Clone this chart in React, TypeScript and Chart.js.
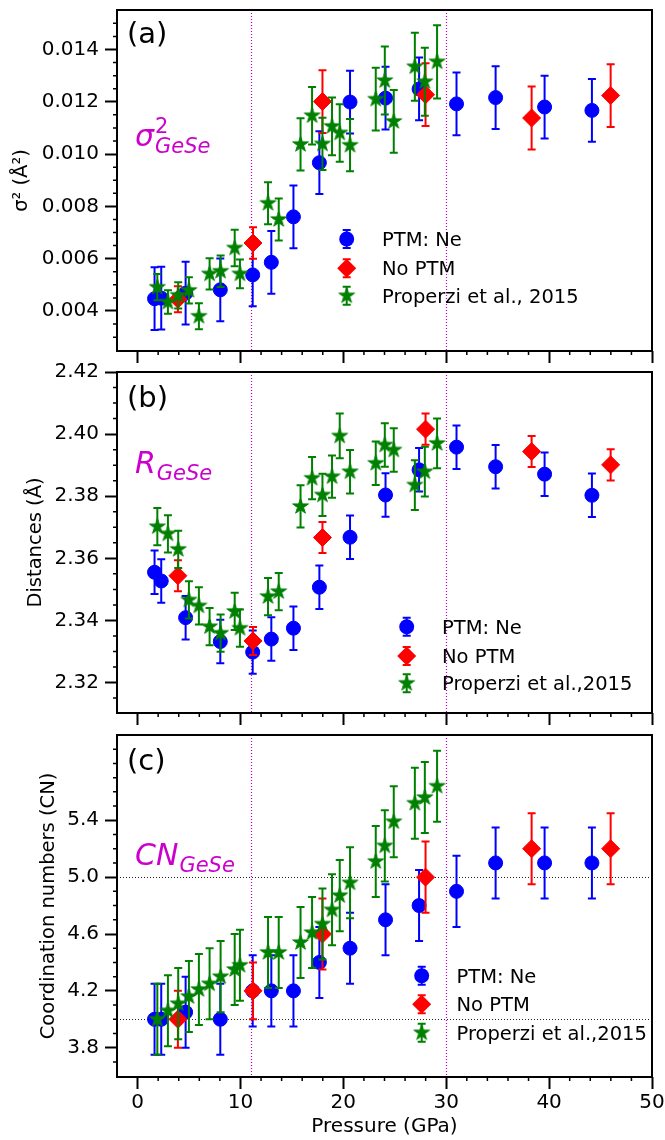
import React, { useEffect, useRef } from 'react';
import { Chart, registerables } from 'chart.js';

Chart.register(...registerables);

// ---------------- data ----------------
const PTM_X = [1.65, 2.3, 4.67, 8.04, 11.19, 13.0, 15.15, 17.67, 20.65, 24.1, 27.36, 31.0, 34.8, 39.56, 44.16];
const NOPTM_X = [3.92, 11.22, 17.97, 27.99, 38.3, 45.98];
const PROP_X = [1.92, 2.95, 3.95, 4.99, 5.96, 7.0, 8.07, 9.44, 9.95, 12.68, 13.72, 15.84, 16.96, 17.97, 18.9, 19.65, 20.65, 23.15, 24.03, 24.9, 26.95, 27.92, 29.11];

// (a) sigma^2
const PTM_SIGMA = [0.00447, 0.00449, 0.00468, 0.00481, 0.00538, 0.00586, 0.0076, 0.00967, 0.01199, 0.01214, 0.01249, 0.01192, 0.01216, 0.0118, 0.01167];
const PTM_SIGMA_ERR = [0.0012, 0.0012, 0.0012, 0.0012, 0.0012, 0.0012, 0.0012, 0.0012, 0.0012, 0.0012, 0.0012, 0.0012, 0.0012, 0.0012, 0.0012];
const NOPTM_SIGMA = [0.00445, 0.0066, 0.01201, 0.01227, 0.01138, 0.01224];
const NOPTM_SIGMA_ERR = [0.0005, 0.0006, 0.0012, 0.0012, 0.0012, 0.0012];
const PROP_SIGMA = [0.00491, 0.00434, 0.0046, 0.00479, 0.0038, 0.00542, 0.00552, 0.00641, 0.00542, 0.00812, 0.0075, 0.01037, 0.01147, 0.01039, 0.01106, 0.01081, 0.01034, 0.0121, 0.01281, 0.01125, 0.01334, 0.01277, 0.01353];
const PROP_SIGMA_ERR = [0.0005, 0.00045, 0.0005, 0.0005, 0.0005, 0.0006, 0.0006, 0.0007, 0.00055, 0.0008, 0.0008, 0.001, 0.0011, 0.001, 0.0011, 0.0011, 0.001, 0.0012, 0.0013, 0.0012, 0.0013, 0.0013, 0.0014];

// (b) distances
const PTM_R = [2.3555, 2.3527, 2.3409, 2.3332, 2.3298, 2.334, 2.3375, 2.3507, 2.3668, 2.3804, 2.3885, 2.3958, 2.3895, 2.3871, 2.3803];
const PTM_R_ERR = [0.007, 0.007, 0.007, 0.007, 0.007, 0.007, 0.007, 0.007, 0.007, 0.007, 0.007, 0.007, 0.007, 0.007, 0.007];
const NOPTM_R = [2.3544, 2.3334, 2.3667, 2.4016, 2.3944, 2.3901];
const NOPTM_R_ERR = [0.005, 0.0045, 0.005, 0.005, 0.005, 0.005];
const PROP_R = [2.3702, 2.3679, 2.3629, 2.3466, 2.3447, 2.338, 2.3359, 2.3429, 2.3375, 2.3477, 2.3493, 2.3767, 2.3858, 2.3804, 2.3863, 2.3994, 2.3879, 2.3906, 2.3965, 2.3949, 2.3836, 2.3879, 2.397];
const PROP_R_ERR = [0.006, 0.006, 0.006, 0.006, 0.006, 0.006, 0.006, 0.006, 0.006, 0.006, 0.006, 0.0068, 0.0068, 0.0068, 0.0068, 0.0072, 0.007, 0.007, 0.007, 0.007, 0.008, 0.008, 0.008];

// (c) coordination numbers
const PTM_CN = [4.0, 4.0, 4.05, 4.0, 4.2, 4.2, 4.2, 4.4, 4.5, 4.7, 4.8, 4.9, 5.1, 5.1, 5.1];
const PTM_CN_ERR = [0.25, 0.25, 0.25, 0.25, 0.25, 0.25, 0.25, 0.25, 0.25, 0.25, 0.25, 0.25, 0.25, 0.25, 0.25];
const NOPTM_CN = [4.0, 4.2, 4.6, 5.0, 5.2, 5.2];
const NOPTM_CN_ERR = [0.2, 0.2, 0.25, 0.25, 0.25, 0.25];
const PROP_CN = [4.0, 4.06, 4.11, 4.16, 4.21, 4.25, 4.3, 4.35, 4.38, 4.47, 4.47, 4.54, 4.61, 4.67, 4.77, 4.87, 4.96, 5.11, 5.22, 5.39, 5.52, 5.56, 5.64];
const PROP_CN_ERR = [0.25, 0.25, 0.25, 0.25, 0.25, 0.25, 0.25, 0.25, 0.25, 0.25, 0.25, 0.25, 0.25, 0.25, 0.25, 0.25, 0.25, 0.25, 0.25, 0.25, 0.25, 0.25, 0.25];

// ticks / reference lines
const X_MAJOR = [0, 10, 20, 30, 40, 50];
const X_MINOR = [2, 4, 6, 8, 12, 14, 16, 18, 22, 24, 26, 28, 32, 34, 36, 38, 42, 44, 46, 48];
const SIGMA_MAJOR = [0.004, 0.006, 0.008, 0.010, 0.012, 0.014];
const SIGMA_MINOR = [0.0025, 0.003, 0.0035, 0.0045, 0.005, 0.0055, 0.0065, 0.007, 0.0075, 0.0085, 0.009, 0.0095, 0.0105, 0.011, 0.0115, 0.0125, 0.013, 0.0135, 0.0145, 0.015];
const R_MAJOR = [2.32, 2.34, 2.36, 2.38, 2.40, 2.42];
const R_MINOR = [2.315, 2.325, 2.33, 2.335, 2.345, 2.35, 2.355, 2.365, 2.37, 2.375, 2.385, 2.39, 2.395, 2.405, 2.41, 2.415];
const CN_MAJOR = [3.8, 4.2, 4.6, 5.0, 5.4];
const CN_MINOR = [3.7, 3.9, 4.0, 4.1, 4.3, 4.4, 4.5, 4.7, 4.8, 4.9, 5.1, 5.2, 5.3, 5.5, 5.6, 5.7, 5.8, 5.9];
const PHASE_LINES = [11, 30];
const CN_REF_LINES = [4.0, 5.0];
const SERIES_LABELS = ['PTM: Ne', 'No PTM', 'Properzi et al., 2015'];
const SERIES_LABELS_BC = ['PTM: Ne', 'No PTM', 'Properzi et al.,2015'];

// ---------------- styles ----------------
const FONT = "'DejaVu Sans', sans-serif";
const BLUE = '#0000ff';
const RED = '#ff0000';
const GREEN = '#008000';
const MAG = '#cc00cc';
const COLORS = [BLUE, RED, GREEN];
const ORDERS = [2, 1, 0];

type Series = { x: number[]; y: number[]; err: number[] };
type PanelSpec = {
  key: string;
  top: number;
  height: number;
  padTop: number;
  xAxisH: number;
  yMin: number;
  yMax: number;
  yMajor: number[];
  yMinor: number[];
  yDigits: number;
  yTitle: string;
  yTitlePad: number;
  showX: boolean;
  series: Series[];
  hLines: number[];
  legendX: number;
  legendTextX: number;
  legendYs: number[];
  legendLabels: string[];
  tag: string;
  tagBaseline: number;
  mathMain: string;
  mathSup: string;
  mathBaseline: number;
};

const PANELS: PanelSpec[] = [
  {
    key: 'a', top: 0, height: 370, padTop: 8, xAxisH: 19,
    yMin: 0.00247, yMax: 0.01551, yMajor: SIGMA_MAJOR, yMinor: SIGMA_MINOR, yDigits: 3,
    yTitle: 'σ² (Å²)', yTitlePad: 10, showX: false,
    series: [
      { x: PTM_X, y: PTM_SIGMA, err: PTM_SIGMA_ERR },
      { x: NOPTM_X, y: NOPTM_SIGMA, err: NOPTM_SIGMA_ERR },
      { x: PROP_X, y: PROP_SIGMA, err: PROP_SIGMA_ERR },
    ],
    hLines: [],
    legendX: 346.7, legendTextX: 382, legendYs: [239, 268.3, 295.7], legendLabels: SERIES_LABELS,
    tag: '(a)', tagBaseline: 43, mathMain: 'σ', mathSup: '2', mathBaseline: 146,
  },
  {
    key: 'b', top: 355, height: 375, padTop: 17, xAxisH: 17,
    yMin: 2.3102, yMax: 2.42, yMajor: R_MAJOR, yMinor: R_MINOR, yDigits: 2,
    yTitle: 'Distances (Å)', yTitlePad: 24, showX: false,
    series: [
      { x: PTM_X, y: PTM_R, err: PTM_R_ERR },
      { x: NOPTM_X, y: NOPTM_R, err: NOPTM_R_ERR },
      { x: PROP_X, y: PROP_R, err: PROP_R_ERR },
    ],
    hLines: [],
    legendX: 406.7, legendTextX: 442, legendYs: [626.7, 656, 683.3], legendLabels: SERIES_LABELS_BC,
    tag: '(b)', tagBaseline: 407, mathMain: 'R', mathSup: '', mathBaseline: 473,
  },
  {
    key: 'c', top: 720, height: 420, padTop: 15, xAxisH: 63,
    yMin: 3.594, yMax: 6.0, yMajor: CN_MAJOR, yMinor: CN_MINOR, yDigits: 1,
    yTitle: 'Coordination numbers (CN)', yTitlePad: 37, showX: true,
    series: [
      { x: PTM_X, y: PTM_CN, err: PTM_CN_ERR },
      { x: NOPTM_X, y: NOPTM_CN, err: NOPTM_CN_ERR },
      { x: PROP_X, y: PROP_CN, err: PROP_CN_ERR },
    ],
    hLines: CN_REF_LINES,
    legendX: 421.7, legendTextX: 456.5, legendYs: [975.7, 1004.3, 1032.7], legendLabels: SERIES_LABELS_BC,
    tag: '(c)', tagBaseline: 770, mathMain: 'CN', mathSup: '', mathBaseline: 865,
  },
];

function makeStar(R: number, color: string): HTMLCanvasElement {
  const s = Math.ceil(R * 2 + 4);
  const c = document.createElement('canvas');
  c.width = s;
  c.height = s;
  const g = c.getContext('2d')!;
  g.fillStyle = color;
  g.strokeStyle = color;
  g.lineWidth = 1;
  g.beginPath();
  for (let i = 0; i < 10; i++) {
    const rr = i % 2 === 0 ? R : R * 0.381966;
    const ang = -Math.PI / 2 + (i * Math.PI) / 5;
    const px = s / 2 + rr * Math.cos(ang);
    const py = s / 2 + rr * Math.sin(ang);
    if (i === 0) g.moveTo(px, py);
    else g.lineTo(px, py);
  }
  g.closePath();
  g.fill();
  g.stroke();
  return c;
}

function drawMarker(ctx: CanvasRenderingContext2D, k: number, x: number, y: number, star: HTMLCanvasElement) {
  ctx.fillStyle = COLORS[k];
  if (k === 0) {
    ctx.beginPath();
    ctx.arc(x, y, 7.5, 0, Math.PI * 2);
    ctx.fill();
  } else if (k === 1) {
    const r = 9.5;
    ctx.beginPath();
    ctx.moveTo(x, y - r);
    ctx.lineTo(x + r, y);
    ctx.lineTo(x, y + r);
    ctx.lineTo(x - r, y);
    ctx.closePath();
    ctx.fill();
  } else {
    ctx.drawImage(star, x - star.width / 2, y - star.height / 2);
  }
}

function errBar(ctx: CanvasRenderingContext2D, x: number, y1: number, y2: number, color: string) {
  ctx.strokeStyle = color;
  ctx.lineWidth = 2;
  ctx.beginPath();
  ctx.moveTo(x, y1);
  ctx.lineTo(x, y2);
  ctx.moveTo(x - 4, y1);
  ctx.lineTo(x + 4, y1);
  ctx.moveTo(x - 4, y2);
  ctx.lineTo(x + 4, y2);
  ctx.stroke();
}

function buildConfig(spec: PanelSpec, star: HTMLCanvasElement): any {
  const datasets = spec.series.map((s, k) => ({
    label: SERIES_LABELS[k],
    data: s.x.map((xv, i) => ({ x: xv, y: s.y[i] })),
    yErr: s.err,
    pointStyle: k === 0 ? 'circle' : k === 1 ? 'rectRot' : star,
    pointRadius: k === 0 ? 7 : 9,
    pointBorderWidth: 1,
    pointBackgroundColor: COLORS[k],
    pointBorderColor: COLORS[k],
    borderColor: COLORS[k],
    backgroundColor: COLORS[k],
    showLine: false,
    order: ORDERS[k],
  }));

  const decor = {
    id: 'decor' + spec.key,
    beforeDatasetsDraw(chart: any) {
      const { ctx, chartArea: a, scales } = chart;
      const xs = scales.x;
      const ys = scales.y;
      ctx.save();
      ctx.lineWidth = 1.2;
      ctx.setLineDash([1, 2]);
      ctx.strokeStyle = MAG;
      PHASE_LINES.forEach((v) => {
        const px = Math.round(xs.getPixelForValue(v)) + 0.5;
        ctx.beginPath();
        ctx.moveTo(px, Math.round(a.top));
        ctx.lineTo(px, a.bottom);
        ctx.stroke();
      });
      ctx.lineWidth = 1;
      ctx.strokeStyle = '#222';
      spec.hLines.forEach((v) => {
        const py = Math.round(ys.getPixelForValue(v)) + 0.5;
        ctx.beginPath();
        ctx.moveTo(Math.round(a.left), py);
        ctx.lineTo(a.right, py);
        ctx.stroke();
      });
      ctx.restore();
    },
    beforeDatasetDraw(chart: any, args: any) {
      const ds = chart.data.datasets[args.index];
      const errs: number[] = ds.yErr;
      if (!errs) return;
      const { ctx, scales } = chart;
      ctx.save();
      ds.data.forEach((p: any, i: number) => {
        const px = scales.x.getPixelForValue(p.x);
        const y1 = scales.y.getPixelForValue(p.y + errs[i]);
        const y2 = scales.y.getPixelForValue(p.y - errs[i]);
        errBar(ctx, px, y1, y2, ds.borderColor);
      });
      ctx.restore();
    },
    afterDraw(chart: any) {
      const { ctx, chartArea: a, scales } = chart;
      const xs = scales.x;
      const ys = scales.y;
      ctx.save();
      // minor ticks
      ctx.strokeStyle = '#000';
      ctx.lineWidth = 1.5;
      ctx.beginPath();
      X_MINOR.forEach((v) => {
        const px = xs.getPixelForValue(v);
        ctx.moveTo(px, a.bottom);
        ctx.lineTo(px, a.bottom + 4);
      });
      spec.yMinor.forEach((v) => {
        const py = ys.getPixelForValue(v);
        if (py > a.top + 1 && py < a.bottom - 1) {
          ctx.moveTo(a.left, py);
          ctx.lineTo(a.left - 4, py);
        }
      });
      ctx.stroke();
      // frame
      ctx.lineWidth = 2;
      ctx.strokeRect(a.left, a.top, a.right - a.left, a.bottom - a.top);

      // legend
      const off = spec.top;
      spec.legendYs.forEach((ly, k) => {
        const y = ly - off;
        errBar(ctx, spec.legendX, y - 9, y + 9, COLORS[k]);
        drawMarker(ctx, k, spec.legendX, y, star);
        ctx.fillStyle = '#000';
        ctx.font = `19.5px ${FONT}`;
        ctx.textAlign = 'left';
        ctx.textBaseline = 'alphabetic';
        ctx.fillText(spec.legendLabels[k], spec.legendTextX, y + 7);
      });

      // panel tag
      ctx.fillStyle = '#000';
      ctx.font = `29px ${FONT}`;
      ctx.textAlign = 'left';
      ctx.textBaseline = 'alphabetic';
      ctx.fillText(spec.tag, 127, spec.tagBaseline - off);

      // math label
      ctx.fillStyle = MAG;
      ctx.font = `italic 30px ${FONT}`;
      const bx = 135;
      const by = spec.mathBaseline - off;
      ctx.fillText(spec.mathMain, bx, by);
      const w = ctx.measureText(spec.mathMain).width;
      if (spec.mathSup) {
        ctx.font = `21px ${FONT}`;
        ctx.fillText(spec.mathSup, bx + w + 1, by - 13);
      }
      ctx.font = `italic 21px ${FONT}`;
      ctx.fillText('GeSe', bx + w + 1, by + 7);
      ctx.restore();
    },
  };

  return {
    type: 'scatter',
    data: { datasets },
    plugins: [decor],
    options: {
      animation: false,
      responsive: false,
      devicePixelRatio: 1,
      events: [],
      layout: { padding: { top: spec.padTop, left: 0, right: 13, bottom: 0 } },
      plugins: { legend: { display: false }, tooltip: { enabled: false } },
      scales: {
        x: {
          type: 'linear',
          min: -2,
          max: 50,
          afterBuildTicks: (s: any) => {
            s.ticks = X_MAJOR.map((v) => ({ value: v }));
          },
          afterFit: (s: any) => {
            s.height = spec.xAxisH;
            s.paddingLeft = 0;
            s.paddingRight = 0;
          },
          grid: { display: true, drawOnChartArea: false, drawTicks: true, tickLength: 12, tickWidth: 2, tickColor: '#000' },
          border: { display: false },
          ticks: {
            display: spec.showX,
            autoSkip: false,
            maxRotation: 0,
            padding: 2,
            color: '#000',
            font: { size: 20, family: FONT },
            callback: (v: any) => String(v),
          },
          title: {
            display: spec.showX,
            text: 'Pressure (GPa)',
            color: '#000',
            font: { size: 20, family: FONT },
            padding: { top: 0, bottom: 1 },
          },
        },
        y: {
          type: 'linear',
          min: spec.yMin,
          max: spec.yMax,
          afterBuildTicks: (s: any) => {
            s.ticks = spec.yMajor.map((v) => ({ value: v }));
          },
          afterFit: (s: any) => {
            s.width = 117;
            s.paddingTop = 0;
            s.paddingBottom = 0;
          },
          grid: { display: true, drawOnChartArea: false, drawTicks: true, tickLength: 12, tickWidth: 2, tickColor: '#000' },
          border: { display: false },
          ticks: {
            autoSkip: false,
            padding: 6,
            color: '#000',
            font: { size: 20, family: FONT },
            callback: (v: any) => Number(v).toFixed(spec.yDigits),
          },
          title: {
            display: true,
            text: spec.yTitle,
            color: '#000',
            font: { size: 19.5, family: FONT },
            padding: { top: spec.yTitlePad, bottom: 0 },
          },
        },
      },
    },
  };
}

function Panel({ spec }: { spec: PanelSpec }) {
  const ref = useRef<HTMLCanvasElement>(null);
  useEffect(() => {
    const star = makeStar(8.3, GREEN);
    const chart = new Chart(ref.current as HTMLCanvasElement, buildConfig(spec, star));
    return () => chart.destroy();
  }, [spec]);
  return (
    <canvas
      ref={ref}
      width={665}
      height={spec.height}
      style={{ position: 'absolute', left: 0, top: spec.top, width: 665, height: spec.height }}
    />
  );
}

export default function App() {
  return (
    <div style={{ position: 'absolute', left: 0, top: 0, width: 665, height: 1140, background: '#fff', overflow: 'hidden' }}>
      {PANELS.map((p) => (
        <Panel key={p.key} spec={p} />
      ))}
    </div>
  );
}
